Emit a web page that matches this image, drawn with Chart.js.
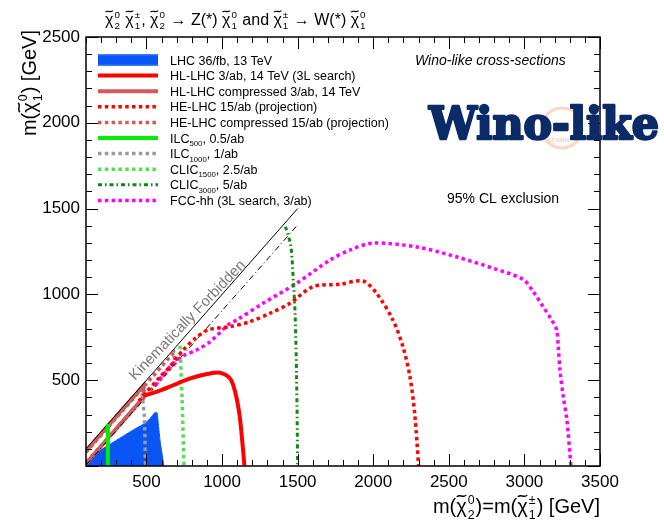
<!DOCTYPE html>
<html>
<head>
<meta charset="utf-8">
<script src="https://cdn.jsdelivr.net/npm/chart.js@4.4.1/dist/chart.umd.min.js"></script>
<style>
  html, body { margin: 0; padding: 0; background: #fff; }
  #c { display: block; }
</style>
</head>
<body>
<canvas id="c" width="664" height="530"></canvas>
<script>
/* ---- reach contours (x = m(chi2^0)=m(chi1^+-), y = m(chi1^0), GeV) ---- */
const lhcX   = [100, 140, 200, 250, 340, 430, 490, 525, 555, 570, 580, 592, 605, 615];
const lhcY   = [0, 54, 95, 122, 171, 219, 249, 278, 311, 309, 230, 132, 60, 0];

const hlX    = [480, 570, 680, 790, 900, 985, 1030, 1060, 1090, 1115, 1132, 1148];
const hlY    = [410, 433, 472, 511, 536, 544, 528, 500, 420, 300, 160, 0];

const hlcX   = [100, 480, 485, 100];
const hlcY   = [88, 468, 405, 15];

const heX    = [450, 590, 655, 743, 825, 908, 1052, 1185, 1317, 1449, 1601, 1780, 1932, 2022, 2130, 2197, 2243, 2275, 2300];
const heY    = [380, 520, 579, 676, 745, 793, 812, 841, 890, 948, 1045, 1059, 1078, 1006, 851, 694, 519, 300, 0];

const hecX   = [100, 680, 690, 100];
const hecY   = [80, 660, 600, 20];

const ilc500X  = [245, 245];
const ilc500Y  = [0, 245];

const ilc1000X = [470, 485, 494];
const ilc1000Y = [424, 300, 0];

const clic1500X = [722, 735, 748];
const clic1500Y = [700, 400, 0];

const clic3000X = [1420, 1455, 1471, 1483, 1493, 1500];
const clic3000Y = [1395, 1280, 1084, 890, 520, 0];

const fccX   = [560, 600, 677, 750, 832, 920, 1052, 1097, 1271, 1495, 1714, 1850, 1998, 2289, 2554, 2800, 2990, 3058, 3124, 3180, 3213, 3224, 3235, 3257, 3281, 3308];
const fccY   = [470, 520, 598, 645, 676, 724, 831, 851, 948, 1066, 1200, 1260, 1299, 1276, 1218, 1150, 1088, 1016, 928, 851, 793, 695, 559, 404, 268, 0];

// m1 = m2 and m1 = m2 - 95 guides
const diagX  = [100, 1500];
const diagY  = [100, 1500];
const offX   = [100, 1500];
const offY   = [5, 1405];

const xTickLabels = [500, 1000, 1500, 2000, 2500, 3000, 3500];
const yTickLabels = [500, 1000, 1500, 2000, 2500];
const X_MIN = 100, X_MAX = 3500, Y_MIN = 0, Y_MAX = 2500, MINOR = 100;

const FONT = '"Liberation Sans", "DejaVu Sans", Arial, sans-serif';

const pts = (xs, ys) => xs.map((x, i) => ({x, y: ys[i]}));
const chi = (sup, sub) => ({chi: true, sup, sub});

const datasets = [
  {label: 'LHC 36/fb, 13 TeV', rich: ['LHC 36/fb, 13 TeV'], data: pts(lhcX, lhcY),
   borderColor: '#0a55f5', backgroundColor: '#0a55f5', borderWidth: 1, fill: 'origin', tension: 0.2, order: 10, bar: true},
  {label: 'HL-LHC 3/ab, 14 TeV (3L search)', rich: ['HL-LHC 3/ab, 14 TeV (3L search)'], data: pts(hlX, hlY),
   borderColor: '#ff0000', borderWidth: 4, tension: 0.35},
  {label: 'HL-LHC compressed 3/ab, 14 TeV', rich: ['HL-LHC compressed 3/ab, 14 TeV'], data: pts(hlcX, hlcY),
   borderColor: '#cd5c5c', borderWidth: 4, tension: 0, order: 5},
  {label: 'HE-LHC 15/ab (projection)', rich: ['HE-LHC 15/ab (projection)'], data: pts(heX, heY),
   borderColor: '#ff0000', borderWidth: 3.5, borderDash: [3.5, 3.3], tension: 0.3},
  {label: 'HE-LHC compressed 15/ab (projection)', rich: ['HE-LHC compressed 15/ab (projection)'], data: pts(hecX, hecY),
   borderColor: '#cd5c5c', borderWidth: 3.5, borderDash: [3.5, 3.3], tension: 0, order: 4},
  {label: 'ILC500, 0.5/ab', rich: ['ILC', {sub: '500'}, ', 0.5/ab'], data: pts(ilc500X, ilc500Y),
   borderColor: '#00ee00', borderWidth: 4, tension: 0},
  {label: 'ILC1000, 1/ab', rich: ['ILC', {sub: '1000'}, ', 1/ab'], data: pts(ilc1000X, ilc1000Y),
   borderColor: '#999999', borderWidth: 3.5, borderDash: [3.5, 3.3], tension: 0.3},
  {label: 'CLIC1500, 2.5/ab', rich: ['CLIC', {sub: '1500'}, ', 2.5/ab'], data: pts(clic1500X, clic1500Y),
   borderColor: '#55dd55', borderWidth: 3.5, borderDash: [3.5, 3.3], tension: 0.3},
  {label: 'CLIC3000, 5/ab', rich: ['CLIC', {sub: '3000'}, ', 5/ab'], data: pts(clic3000X, clic3000Y),
   borderColor: '#118811', borderWidth: 3, borderDash: [4, 3, 1.5, 3], tension: 0.3},
  {label: 'FCC-hh (3L search, 3/ab)', rich: ['FCC-hh (3L search, 3/ab)'], data: pts(fccX, fccY),
   borderColor: '#ff00ff', borderWidth: 3.5, borderDash: [3.5, 3.3], tension: 0.3},
  {label: 'diag', data: pts(diagX, diagY), borderColor: '#000', borderWidth: 1, tension: 0, noLegend: true},
  {label: 'diag-95', data: pts(offX, offY), borderColor: '#000', borderWidth: 1, borderDash: [6, 3, 1, 3], tension: 0, noLegend: true}
];

/* ---- text with tilde-chi, sup/sub scripts ---- */
function tilde(ctx, x0, y0, w, h, lw){
  ctx.save();
  ctx.lineWidth = lw;
  ctx.beginPath();
  ctx.moveTo(x0, y0 + h * 0.5);
  ctx.bezierCurveTo(x0 + w / 3, y0 - h * 1.4, x0 + 2 * w / 3, y0 + h * 1.4, x0 + w, y0 - h * 0.5);
  ctx.stroke();
  ctx.restore();
}

function drawRich(ctx, toks, x, y, fs, dry){
  let cx = x;
  const big = fs + 'px ' + FONT, small = (fs * 0.62).toFixed(1) + 'px ' + FONT;
  for(const t of toks){
    if(typeof t === 'string'){
      ctx.font = big;
      if(!dry) ctx.fillText(t, cx, y);
      cx += ctx.measureText(t).width;
    } else if(t.chi){
      ctx.font = big;
      const w = ctx.measureText('χ').width;
      if(!dry){
        ctx.fillText('χ', cx, y);
        ctx.strokeStyle = ctx.fillStyle;
        tilde(ctx, cx + w * 0.05, y - fs * 0.85, w * 0.9, fs * 0.09, fs * 0.07);
      }
      cx += w;
      ctx.font = small;
      let w2 = 0;
      if(t.sup){ if(!dry) ctx.fillText(t.sup, cx + 1, y - fs * 0.45); w2 = Math.max(w2, ctx.measureText(t.sup).width); }
      if(t.sub){ if(!dry) ctx.fillText(t.sub, cx + 1, y + fs * 0.28); w2 = Math.max(w2, ctx.measureText(t.sub).width); }
      cx += w2 + 2;
    } else if(t.sub){
      ctx.font = small;
      if(!dry) ctx.fillText(t.sub, cx, y + fs * 0.3);
      cx += ctx.measureText(t.sub).width;
    }
  }
  return cx - x;
}

const titleToks = [chi('0', '2'), ' ', chi('±', '1'), ', ', chi('0', '2'), ' → Z(*) ', chi('0', '1'),
                   ' and ', chi('±', '1'), ' → W(*) ', chi('0', '1')];
const xTitleToks = ['m(', chi('0', '2'), ')=m(', chi('±', '1'), ') [GeV]'];
const yTitleToks = ['m(', chi('0', '1'), ') [GeV]'];

/* ---- frame with ROOT-style inward ticks on all four sides ---- */
const framePlugin = {
  id: 'frame',
  afterDatasetsDraw(chart){
    const {ctx, chartArea: a, scales: {x, y}} = chart;
    ctx.save();
    ctx.strokeStyle = '#000';
    ctx.lineWidth = 1.5;
    ctx.strokeRect(a.left, a.top, a.right - a.left, a.bottom - a.top);
    ctx.lineWidth = 1;
    ctx.beginPath();
    for(let v = X_MIN; v <= X_MAX; v += MINOR){
      const len = v % 500 === 0 ? 12 : 6;
      const px = Math.round(x.getPixelForValue(v)) + 0.5;
      ctx.moveTo(px, a.bottom); ctx.lineTo(px, a.bottom - len);
      ctx.moveTo(px, a.top); ctx.lineTo(px, a.top + len);
    }
    for(let v = Y_MIN; v <= Y_MAX; v += MINOR){
      const len = v % 500 === 0 ? 12 : 6;
      const py = Math.round(y.getPixelForValue(v)) + 0.5;
      ctx.moveTo(a.left, py); ctx.lineTo(a.left + len, py);
      ctx.moveTo(a.right, py); ctx.lineTo(a.right - len, py);
    }
    ctx.stroke();
    ctx.restore();
  }
};

/* ---- titles, legend, annotations ---- */
const textPlugin = {
  id: 'texts',
  afterDraw(chart){
    const {ctx} = chart;
    ctx.save();
    ctx.fillStyle = '#000';
    ctx.textBaseline = 'alphabetic';
    ctx.textAlign = 'left';

    drawRich(ctx, titleToks, 105, 25, 16);

    const xw = drawRich(ctx, xTitleToks, 0, 0, 20, true);
    drawRich(ctx, xTitleToks, 600 - xw, 513, 20);

    const yw = drawRich(ctx, yTitleToks, 0, 0, 20, true);
    ctx.save();
    ctx.translate(36, 30);
    ctx.rotate(-Math.PI / 2);
    drawRich(ctx, yTitleToks, -yw, 0, 20);
    ctx.restore();

    // legend
    let row = 0;
    chart.data.datasets.forEach(ds => {
      if(ds.noLegend) return;
      const cy = 60 + row * 15.6;
      if(ds.bar){
        ctx.fillStyle = '#3a78ff';
        ctx.fillRect(98, cy - 6, 60, 12);
        ctx.fillStyle = ds.backgroundColor;
        ctx.fillRect(98, cy - 4.5, 60, 9);
      } else {
        ctx.strokeStyle = ds.borderColor;
        ctx.lineWidth = ds.borderWidth;
        ctx.setLineDash(ds.borderDash || []);
        ctx.beginPath();
        ctx.moveTo(98, cy); ctx.lineTo(158, cy);
        ctx.stroke();
        ctx.setLineDash([]);
      }
      ctx.fillStyle = '#000';
      drawRich(ctx, ds.rich, 170, cy + 4.5, 12.5);
      row++;
    });

    ctx.font = 'italic 14px ' + FONT;
    ctx.fillText('Wino-like cross-sections', 415, 65);
    ctx.font = '14px ' + FONT;
    ctx.fillText('95% CL exclusion', 447, 203);

    // label along the m1 = m2 boundary
    ctx.save();
    ctx.translate(135, 381);
    ctx.rotate(-46 * Math.PI / 180);
    ctx.fillStyle = '#7a7a7a';
    ctx.font = '15px ' + FONT;
    ctx.fillText('Kinematically Forbidden', 0, 0);
    ctx.restore();

    // faint ring behind the big label
    ctx.strokeStyle = 'rgba(240,140,80,0.35)';
    ctx.lineWidth = 3;
    ctx.beginPath();
    ctx.arc(562, 128, 20, 0, Math.PI * 2);
    ctx.stroke();
    ctx.fillStyle = 'rgba(230,120,70,0.45)';
    ctx.font = '7px ' + FONT;
    ctx.fillText('Update', 548, 142);

    // big label, heavy rounded look
    ctx.save();
    ctx.font = 'bold 44px "DejaVu Serif", serif';
    const lw = ctx.measureText('Wino-like').width;
    ctx.translate(429, 139);
    ctx.scale(230 / lw, 1);
    ctx.fillStyle = '#0b2a68';
    ctx.strokeStyle = '#0b2a68';
    ctx.lineWidth = 2.5;
    ctx.lineJoin = 'round';
    ctx.strokeText('Wino-like', 0, 0);
    ctx.fillText('Wino-like', 0, 0);
    ctx.restore();

    ctx.restore();
  }
};

const tickFont = {family: FONT, size: 17};

new Chart(document.getElementById('c'), {
  type: 'line',
  data: {datasets},
  options: {
    responsive: false,
    animation: false,
    devicePixelRatio: 1,
    layout: {padding: {left: 0, top: 37, right: 64, bottom: 0}},
    elements: {point: {radius: 0}},
    plugins: {legend: {display: false}, tooltip: {enabled: false}},
    scales: {
      x: {
        type: 'linear', min: X_MIN, max: X_MAX,
        afterBuildTicks: s => { s.ticks = xTickLabels.map(v => ({value: v})); },
        afterFit: s => { s.height = 64; },
        ticks: {color: '#000', font: tickFont, padding: 6, maxRotation: 0, autoSkip: false, callback: v => String(v)},
        grid: {display: false, drawTicks: false},
        border: {display: false}
      },
      y: {
        type: 'linear', min: Y_MIN, max: Y_MAX,
        afterBuildTicks: s => { s.ticks = yTickLabels.map(v => ({value: v})); },
        afterFit: s => { s.width = 86; },
        ticks: {color: '#000', font: tickFont, padding: 6, autoSkip: false, callback: v => String(v)},
        grid: {display: false, drawTicks: false},
        border: {display: false}
      }
    }
  },
  plugins: [framePlugin, textPlugin]
});
</script>
</body>
</html>
